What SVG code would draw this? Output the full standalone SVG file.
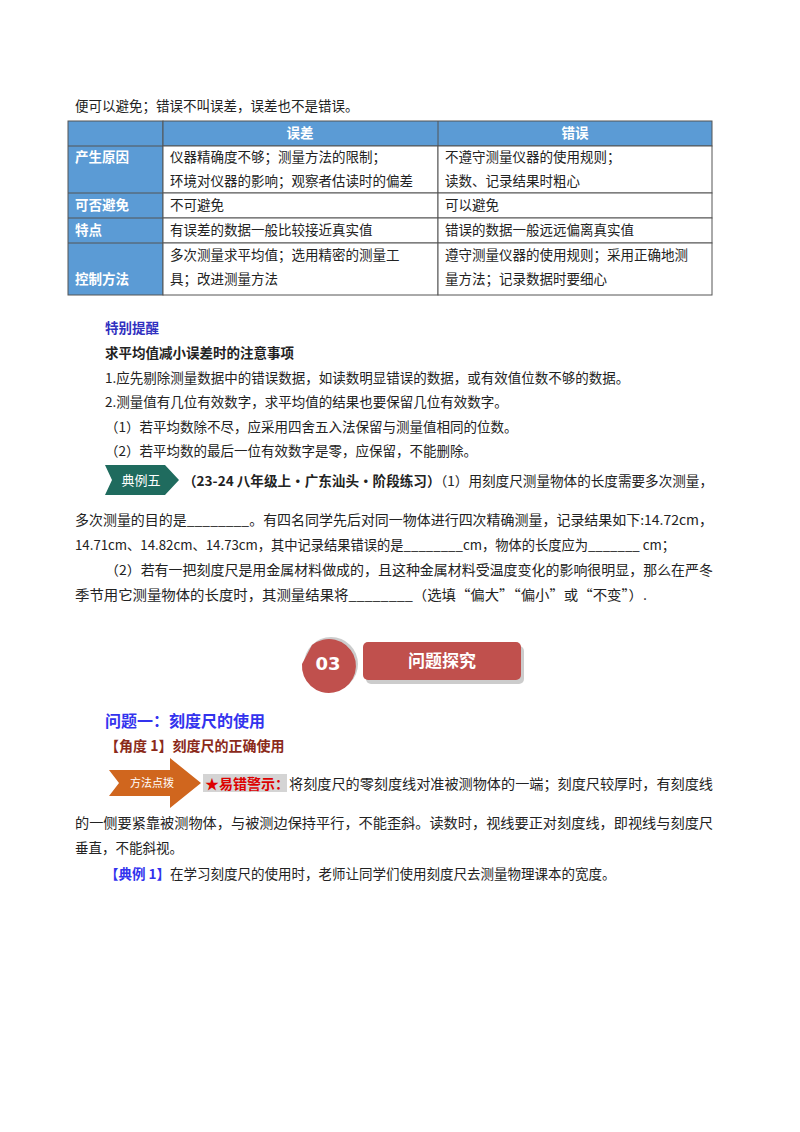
<svg xmlns="http://www.w3.org/2000/svg" width="800" height="1132" viewBox="0 0 800 1132">
<style>
text{font-family:"Noto Sans CJK SC","Liberation Sans",sans-serif;font-size:13.5px;fill:#222}
.h{fill:#fff;font-weight:bold;font-size:13.5px}
.b{font-weight:bold}
.cell{fill:#fff;stroke:#555;stroke-width:1}
.hd{fill:#5b9bd5;stroke:#555;stroke-width:1}
</style>
<rect width="800" height="1132" fill="#fff"/>
<text x="75" y="111">便可以避免；错误不叫误差，误差也不是错误。</text>
<g id="table">
<rect class="hd" x="68" y="121" width="95" height="174"/>
<rect class="hd" x="163" y="121" width="549" height="25"/>
<rect class="cell" x="163" y="146" width="275" height="47"/><rect class="cell" x="438" y="146" width="274" height="47"/>
<rect class="cell" x="163" y="193" width="275" height="25"/><rect class="cell" x="438" y="193" width="274" height="25"/>
<rect class="cell" x="163" y="218" width="275" height="25"/><rect class="cell" x="438" y="218" width="274" height="25"/>
<rect class="cell" x="163" y="243" width="275" height="52"/><rect class="cell" x="438" y="243" width="274" height="52"/>
<line x1="68" y1="146" x2="163" y2="146" stroke="#555"/><line x1="68" y1="193" x2="163" y2="193" stroke="#555"/>
<line x1="68" y1="218" x2="163" y2="218" stroke="#555"/><line x1="68" y1="243" x2="163" y2="243" stroke="#555"/>
<line x1="438" y1="121" x2="438" y2="146" stroke="#555"/>
<text class="h" x="300" y="138" text-anchor="middle">误差</text>
<text class="h" x="575" y="138" text-anchor="middle">错误</text>
<text class="h" x="75" y="162">产生原因</text>
<text class="h" x="75" y="210">可否避免</text>
<text class="h" x="75" y="235">特点</text>
<text class="h" x="75" y="284">控制方法</text>
<text x="170" y="162">仪器精确度不够；测量方法的限制；</text>
<text x="170" y="186">环境对仪器的影响；观察者估读时的偏差</text>
<text x="445" y="162">不遵守测量仪器的使用规则；</text>
<text x="445" y="186">读数、记录结果时粗心</text>
<text x="170" y="210">不可避免</text><text x="445" y="210">可以避免</text>
<text x="170" y="235">有误差的数据一般比较接近真实值</text><text x="445" y="235">错误的数据一般远远偏离真实值</text>
<text x="170" y="260">多次测量求平均值；选用精密的测量工</text>
<text x="170" y="284">具；改进测量方法</text>
<text x="445" y="260">遵守测量仪器的使用规则；采用正确地测</text>
<text x="445" y="284">量方法；记录数据时要细心</text>
</g>
<text x="105" y="333" class="b" style="fill:#3030c0">特别提醒</text>
<text x="105" y="358" class="b">求平均值减小误差时的注意事项</text>
<text x="105" y="383">1.应先剔除测量数据中的错误数据，如读数明显错误的数据，或有效值位数不够的数据。</text>
<text x="105" y="407">2.测量值有几位有效数字，求平均值的结果也要保留几位有效数字。</text>
<text x="105" y="432">（1）若平均数除不尽，应采用四舍五入法保留与测量值相同的位数。</text>
<text x="105" y="456">（2）若平均数的最后一位有效数字是零，应保留，不能删除。</text>
<g id="badge5">
<polygon points="105,465 165,465 179,480 165,495 105,495 112,480" fill="#1f6b5e"/>
<text x="141" y="485" text-anchor="middle" style="fill:#fff;font-size:13px">典例五</text>
</g>
<text x="183" y="486" textLength="530" lengthAdjust="spacingAndGlyphs"><tspan class="b">（23-24 八年级上·广东汕头·阶段练习）</tspan>（1）用刻度尺测量物体的长度需要多次测量，</text>
<text x="75" y="525" textLength="638" lengthAdjust="spacingAndGlyphs">多次测量的目的是________。有四名同学先后对同一物体进行四次精确测量，记录结果如下:14.72cm，</text>
<text x="75" y="550" textLength="600" lengthAdjust="spacingAndGlyphs">14.71cm、14.82cm、14.73cm，其中记录结果错误的是________cm，物体的长度应为_______ cm；</text>
<text x="105" y="575" textLength="608" lengthAdjust="spacingAndGlyphs">（2）若有一把刻度尺是用金属材料做成的，且这种金属材料受温度变化的影响很明显，那么在严冬</text>
<text x="75" y="600" textLength="572" lengthAdjust="spacingAndGlyphs">季节用它测量物体的长度时，其测量结果将________（选填“偏大”“偏小”或“不变”）.</text>
<g id="banner03">
<rect x="366" y="646" width="158" height="38" rx="5" fill="#999" opacity="0.5"/>
<rect x="363" y="642" width="158" height="38" rx="5" fill="#c0504d"/>
<text x="442" y="667" text-anchor="middle" style="fill:#fff;font-weight:bold;font-size:17px">问题探究</text>
<circle cx="331" cy="664" r="27" fill="#999" opacity="0.5"/>
<path d="M302,664 L312,645 A27,27 0 1 1 302,664 Z" fill="#c0504d"/>
<text x="328" y="670" text-anchor="middle" style="fill:#fff;font-weight:bold;font-size:18px;font-family:'DejaVu Sans',sans-serif">03</text>
</g>
<text x="105" y="727" style="fill:#3333ee;font-weight:bold;font-size:16px">问题一：刻度尺的使用</text>
<text x="105" y="751" style="fill:#8b2a1a;font-weight:bold;font-size:14px">【角度 1】刻度尺的正确使用</text>
<g id="arrow-method">
<polygon points="109,770 170,770 170,758 201,783 170,808 170,796 109,796 119,783" fill="#d0661e"/>
<text x="152" y="787" text-anchor="middle" style="fill:#fff;font-size:11px">方法点拨</text>
</g>
<rect x="203" y="774" width="84" height="18" fill="#d4d4d4"/>
<text x="205" y="789" style="fill:#d00;font-weight:bold;font-size:14px">★易错警示：</text>
<text x="289" y="789" textLength="424" lengthAdjust="spacingAndGlyphs">将刻度尺的零刻度线对准被测物体的一端；刻度尺较厚时，有刻度线</text>
<text x="75" y="828" textLength="638" lengthAdjust="spacingAndGlyphs">的一侧要紧靠被测物体，与被测边保持平行，不能歪斜。读数时，视线要正对刻度线，即视线与刻度尺</text>
<text x="75" y="853">垂直，不能斜视。</text>
<text x="105" y="879"><tspan class="b" style="fill:#3333ee">【典例 1】</tspan>在学习刻度尺的使用时，老师让同学们使用刻度尺去测量物理课本的宽度。</text>
</svg>
